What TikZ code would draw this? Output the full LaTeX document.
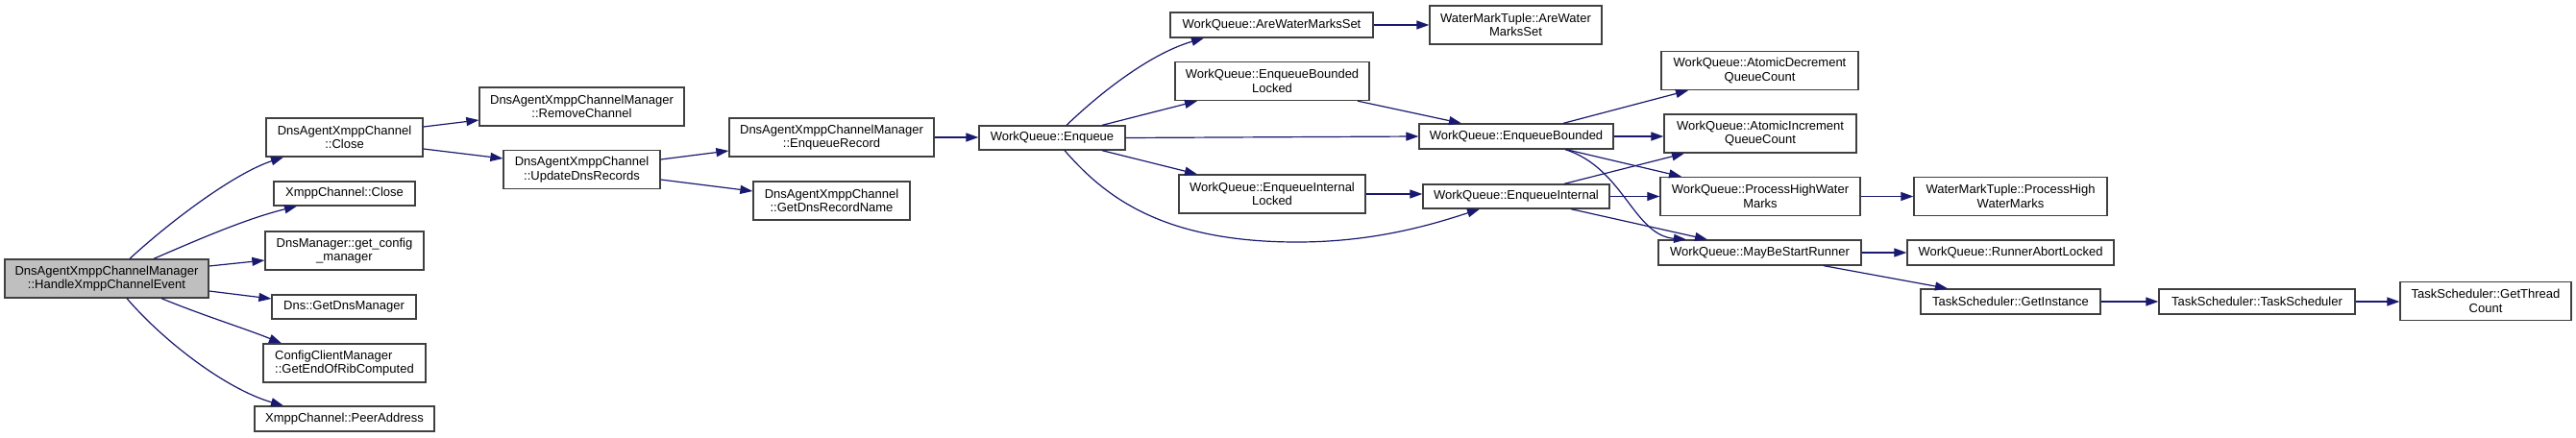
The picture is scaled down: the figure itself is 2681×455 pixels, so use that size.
\documentclass[tikz,border=0pt]{standalone}
\usepackage{fontspec}
\setmainfont{Liberation Sans}
\usetikzlibrary{arrows.meta,calc}
\definecolor{edgeblue}{HTML}{191970}
\definecolor{boxline}{HTML}{404040}
\definecolor{hlfill}{HTML}{BFBFBF}
\begin{document}
\begin{tikzpicture}[x=1pt,y=-1pt,
  callbox/.style={draw=boxline, line width=1.3pt, fill=white, inner sep=0pt, align=center,
    font=\fontsize{13}{14.5}\selectfont},
  call/.style={draw=edgeblue, line width=1.2pt, -{Triangle[length=13pt,width=9pt]}}]
\useasboundingbox[fill=white] (0,0) rectangle (2681,455);
% nodes
\node[callbox, fill=hlfill, minimum width=212pt, minimum height=40pt] (handle) at (111,290) {DnsAgentXmppChannelManager\\::HandleXmppChannelEvent};
\node[callbox, minimum width=163pt, minimum height=40pt] (daxcClose) at (358.5,143) {DnsAgentXmppChannel\\::Close};
\node[callbox, minimum width=147pt, minimum height=25pt] (xcClose) at (358.5,201.5) {XmppChannel::Close};
\node[callbox, minimum width=165pt, minimum height=40pt] (getcfg) at (358.5,261) {DnsManager::get\_config\\\_manager};
\node[callbox, minimum width=150pt, minimum height=25pt] (getdns) at (358,319.5) {Dns::GetDnsManager};
\node[callbox, align=left, minimum width=169pt, minimum height=40pt] (ccm) at (358.5,378) {ConfigClientManager\\::GetEndOfRibComputed};
\node[callbox, minimum width=187pt, minimum height=26pt] (peer) at (358.5,436) {XmppChannel::PeerAddress};
\node[callbox, minimum width=213pt, minimum height=40pt] (remove) at (605.5,111) {DnsAgentXmppChannelManager\\::RemoveChannel};
\node[callbox, minimum width=163pt, minimum height=40pt] (update) at (605.5,176.5) {DnsAgentXmppChannel\\::UpdateDnsRecords};
\node[callbox, minimum width=213pt, minimum height=40pt] (enqrec) at (865.5,143) {DnsAgentXmppChannelManager\\::EnqueueRecord};
\node[callbox, minimum width=163pt, minimum height=40pt] (getname) at (865.5,209) {DnsAgentXmppChannel\\::GetDnsRecordName};
\node[callbox, minimum width=152pt, minimum height=25pt] (enqueue) at (1095,143.5) {WorkQueue::Enqueue};
\node[callbox, minimum width=211pt, minimum height=26pt] (arewms) at (1323.5,26) {WorkQueue::AreWaterMarksSet};
\node[callbox, minimum width=202pt, minimum height=40pt] (ebl) at (1324,84.5) {WorkQueue::EnqueueBounded\\Locked};
\node[callbox, minimum width=194pt, minimum height=40pt] (eil) at (1324,202) {WorkQueue::EnqueueInternal\\Locked};
\node[callbox, minimum width=179pt, minimum height=40pt] (wmtare) at (1577.5,26) {WaterMarkTuple::AreWater\\MarksSet};
\node[callbox, minimum width=202pt, minimum height=26pt] (eb) at (1578,142) {WorkQueue::EnqueueBounded};
\node[callbox, minimum width=194pt, minimum height=25pt] (ei) at (1578,204.5) {WorkQueue::EnqueueInternal};
\node[callbox, minimum width=205pt, minimum height=40pt] (adec) at (1831.5,73.5) {WorkQueue::AtomicDecrement\\QueueCount};
\node[callbox, minimum width=200pt, minimum height=40pt] (ainc) at (1832,139) {WorkQueue::AtomicIncrement\\QueueCount};
\node[callbox, minimum width=208pt, minimum height=40pt] (phwm) at (1832,204.5) {WorkQueue::ProcessHighWater\\Marks};
\node[callbox, minimum width=211pt, minimum height=26pt] (mbsr) at (1831.5,263) {WorkQueue::MayBeStartRunner};
\node[callbox, minimum width=201pt, minimum height=40pt] (wmtphwm) at (2092.5,204.5) {WaterMarkTuple::ProcessHigh\\WaterMarks};
\node[callbox, minimum width=215pt, minimum height=26pt] (ral) at (2092.5,263) {WorkQueue::RunnerAbortLocked};
\node[callbox, minimum width=187pt, minimum height=26pt] (getinst) at (2092.5,314) {TaskScheduler::GetInstance};
\node[callbox, minimum width=204pt, minimum height=26pt] (tsts) at (2349,314) {TaskScheduler::TaskScheduler};
\node[callbox, minimum width=178pt, minimum height=40pt] (gtc) at (2587,313.5) {TaskScheduler::GetThread\\Count};
% edges
\draw[call] ($(handle.north)+(24,0)$) .. controls (180,228) and (245,180) .. ($(daxcClose.south)+(-63.5,0)$);
\draw[call] ($(handle.north)+(49,0)$) .. controls (205,250) and (255,228) .. ($(xcClose.south)+(-49.5,0)$);
\draw[call] ($(handle.east)+(0,-13)$) -- ($(getcfg.west)+(0,10)$);
\draw[call] ($(handle.east)+(0,13)$) -- ($(getdns.west)+(0,-8.5)$);
\draw[call] ($(handle.south)+(57,0)$) .. controls (210,328) and (255,342) .. ($(ccm.north)+(-65.5,0)$);
\draw[call] ($(handle.south)+(21,0)$) .. controls (170,355) and (235,405) .. ($(peer.north)+(-63.5,0)$);
\draw[call] ($(daxcClose.east)+(0,-11)$) -- ($(remove.west)+(0,14)$);
\draw[call] ($(daxcClose.east)+(0,12)$) -- ($(update.west)+(0,-11.5)$);
\draw[call] ($(update.east)+(0,-10.5)$) -- ($(enqrec.west)+(0,14)$);
\draw[call] ($(update.east)+(0,10.5)$) -- ($(getname.west)+(0,-10)$);
\draw[call] (enqrec.east) -- (enqrec.east -| enqueue.west);
\draw[call] ($(enqueue.north)+(15,0)$) .. controls (1150,92) and (1200,55) .. ($(arewms.south)+(-70.5,0)$);
\draw[call] ($(enqueue.north)+(52,0)$) -- ($(ebl.south)+(-78,0)$);
\draw[call] (enqueue.east) -- (eb.west);
\draw[call] ($(enqueue.south)+(52,0)$) -- ($(eil.north)+(-78,0)$);
\draw[call] ($(enqueue.south)+(13,0)$) .. controls (1150,205) and (1210,252) .. (1350,252) .. controls (1430,252) and (1490,234) .. ($(ei.south)+(-38,0)$);
\draw[call] (arewms.east) -- (arewms.east -| wmtare.west);
\draw[call] ($(ebl.south)+(89,0)$) -- ($(eb.north)+(-57,0)$);
\draw[call] (eil.east) -- (eil.east -| ei.west);
\draw[call] ($(eb.north)+(49,0)$) -- ($(adec.south)+(-74.5,0)$);
\draw[call] (eb.east) -- (eb.east -| ainc.west);
\draw[call] ($(eb.south)+(52,0)$) -- ($(phwm.north)+(-82,0)$);
\draw[call] ($(eb.south)+(51,0)$) .. controls (1690,175) and (1700,245) .. ($(mbsr.north)+(-76.5,0)$);
\draw[call] ($(ei.north)+(50,0)$) -- ($(ainc.south)+(-79,0)$);
\draw[call] (ei.east) -- (ei.east -| phwm.west);
\draw[call] ($(ei.south)+(57,0)$) -- ($(mbsr.north)+(-54.5,0)$);
\draw[call] (phwm.east) -- (phwm.east -| wmtphwm.west);
\draw[call] (mbsr.east) -- (mbsr.east -| ral.west);
\draw[call] ($(mbsr.south)+(66.5,0)$) -- ($(getinst.north)+(-65.5,0)$);
\draw[call] (getinst.east) -- (getinst.east -| tsts.west);
\draw[call] (tsts.east) -- (tsts.east -| gtc.west);
\end{tikzpicture}
\end{document}
